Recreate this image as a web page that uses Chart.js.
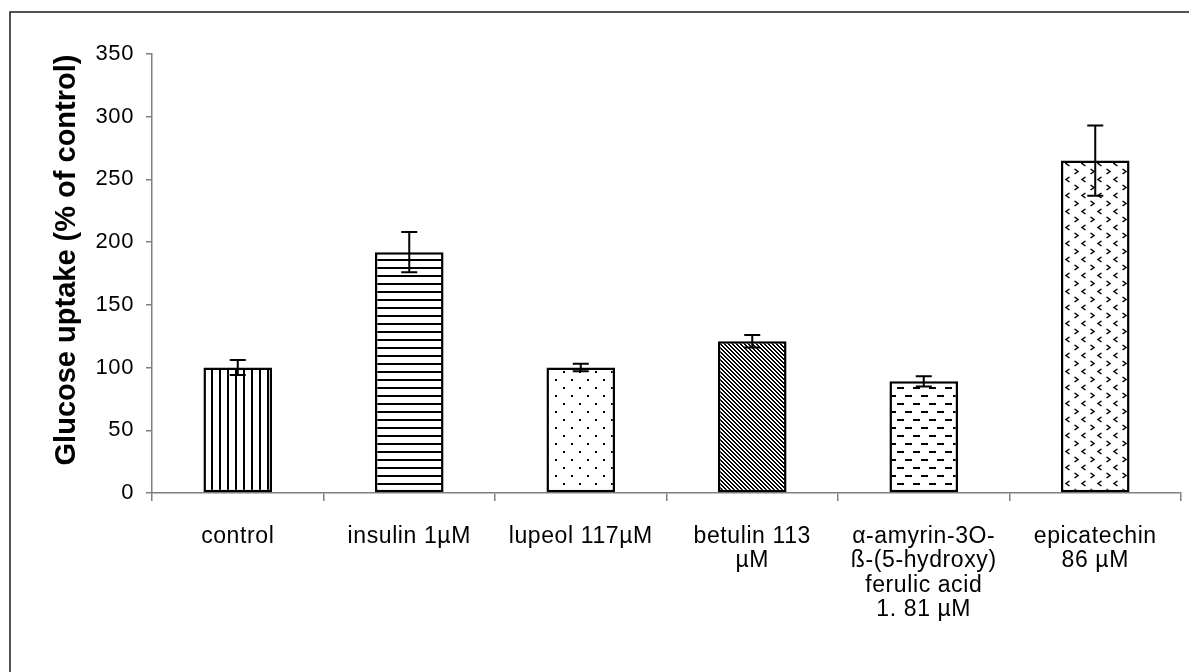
<!DOCTYPE html>
<html>
<head>
<meta charset="utf-8">
<title>Glucose uptake</title>
<script src="https://cdn.jsdelivr.net/npm/chart.js@4.4.1/dist/chart.umd.min.js"></script>
<style>
  html, body { margin: 0; padding: 0; background: #ffffff; }
  canvas { display: block; }
</style>
</head>
<body>
<canvas id="chart" width="1189" height="672"></canvas>
<script>
// Treatments on the x axis (multi-line labels as arrays)
const categories = [
  'control',
  'insulin 1µM',
  'lupeol 117µM',
  ['betulin 113', 'µM'],
  ['α-amyrin-3O-', 'ß-(5-hydroxy)', 'ferulic acid', '1. 81 µM'],
  ['epicatechin', '86 µM']
];
// Mean glucose uptake, % of control
const means = [100, 192, 100, 121, 89, 265];
// Error bar half-lengths
const errors = [6, 16, 3, 5, 4, 28];
// Y axis range and step
const yMin = 0;
const yMax = 350;
const yStep = 50;
const yTitle = 'Glucose uptake (% of control)';

const FONT = "'Liberation Sans', Arial, Helvetica, sans-serif";

// Monochrome fill patterns, one per bar
function tile(w, h, paint) {
  const c = document.createElement('canvas');
  c.width = w; c.height = h;
  const g = c.getContext('2d');
  g.fillStyle = '#ffffff';
  g.fillRect(0, 0, w, h);
  g.fillStyle = '#000000';
  g.strokeStyle = '#000000';
  paint(g);
  return document.getElementById('chart').getContext('2d').createPattern(c, 'repeat');
}

const patterns = [
  // vertical lines
  tile(8, 8, g => { g.fillRect(3, 0, 2, 8); }),
  // horizontal lines
  tile(8, 8, g => { g.fillRect(0, 3, 8, 2); }),
  // sparse staggered dots
  tile(16, 16, g => { g.fillRect(3, 3, 2, 2); g.fillRect(11, 11, 2, 2); }),
  // dense diagonal hatching
  tile(4, 4, g => {
    for (let i = 0; i < 4; i++) { g.fillRect(i, i, 1, 1); g.fillRect((i + 1) % 4, i, 1, 1); }
  }),
  // staggered dashes
  tile(16, 16, g => { g.fillRect(1, 3, 7, 2); g.fillRect(9, 11, 7, 2); }),
  // chevrons: '>' and '<' in alternating rows
  tile(16, 16, g => {
    g.lineWidth = 1.5;
    g.beginPath();
    g.moveTo(2.5, 9); g.lineTo(6, 11.5); g.lineTo(2.5, 14);
    g.moveTo(13.5, 1); g.lineTo(10, 3.5); g.lineTo(13.5, 6);
    g.stroke();
  })
];

// Error bars drawn from the same values as the bars
const errorBars = {
  id: 'errorBars',
  afterDatasetsDraw(chart) {
    const ctx = chart.ctx;
    const y = chart.scales.y;
    const meta = chart.getDatasetMeta(0);
    ctx.save();
    ctx.strokeStyle = '#000000';
    ctx.lineWidth = 2;
    meta.data.forEach((bar, i) => {
      const top = y.getPixelForValue(means[i] + errors[i]);
      const bot = y.getPixelForValue(means[i] - errors[i]);
      const x = bar.x;
      const cap = 8;
      ctx.beginPath();
      ctx.moveTo(x, top); ctx.lineTo(x, bot);
      ctx.moveTo(x - cap, top); ctx.lineTo(x + cap, top);
      ctx.moveTo(x - cap, bot); ctx.lineTo(x + cap, bot);
      ctx.stroke();
    });
    ctx.restore();
  }
};

// Lightly tracked axis text, rotated y-axis title, and frame lines
const decorations = {
  id: 'decorations',
  beforeDraw(chart) {
    chart.ctx.letterSpacing = '0.6px';
  },
  afterDraw(chart) {
    const ctx = chart.ctx;
    ctx.letterSpacing = '0px';
    ctx.save();
    ctx.translate(67, 260);
    ctx.rotate(-Math.PI / 2);
    ctx.fillStyle = '#000000';
    ctx.font = 'bold 29px ' + FONT;
    ctx.textAlign = 'center';
    ctx.textBaseline = 'middle';
    ctx.fillText(yTitle, 0, 0);
    ctx.restore();

    ctx.save();
    ctx.strokeStyle = '#1a1a1a';
    ctx.lineWidth = 1.5;
    ctx.beginPath();
    ctx.moveTo(10, 672); ctx.lineTo(10, 12); ctx.lineTo(1189, 12);
    ctx.stroke();
    ctx.restore();
  }
};

new Chart(document.getElementById('chart'), {
  type: 'bar',
  data: {
    labels: categories,
    datasets: [{
      data: means,
      backgroundColor: patterns,
      borderColor: '#000000',
      borderWidth: 2.5,
      borderSkipped: false,
      categoryPercentage: 1.0,
      barPercentage: 0.40
    }]
  },
  options: {
    responsive: false,
    animation: false,
    devicePixelRatio: 1,
    layout: { padding: { left: 0, top: 54, right: 8, bottom: 0 } },
    plugins: {
      legend: { display: false },
      tooltip: { enabled: false }
    },
    scales: {
      x: {
        grid: {
          offset: true,
          drawOnChartArea: false,
          drawTicks: true,
          tickLength: 8,
          color: '#808080',
          lineWidth: 1.5
        },
        border: { color: '#808080', width: 1.5 },
        ticks: {
          color: '#000000',
          padding: 23,
          maxRotation: 0,
          autoSkip: false,
          font: { family: FONT, size: 23, lineHeight: 1.065 }
        },
        afterFit(scale) { scale.height = 672 - 493; }
      },
      y: {
        min: yMin,
        max: yMax,
        grid: {
          drawOnChartArea: false,
          drawTicks: true,
          tickLength: 6,
          color: '#808080',
          lineWidth: 1.5
        },
        border: { color: '#808080', width: 1.5 },
        ticks: {
          stepSize: yStep,
          color: '#000000',
          padding: 12,
          font: { family: FONT, size: 22 }
        },
        afterFit(scale) { scale.width = 152; }
      }
    }
  },
  plugins: [errorBars, decorations]
});
</script>
</body>
</html>
